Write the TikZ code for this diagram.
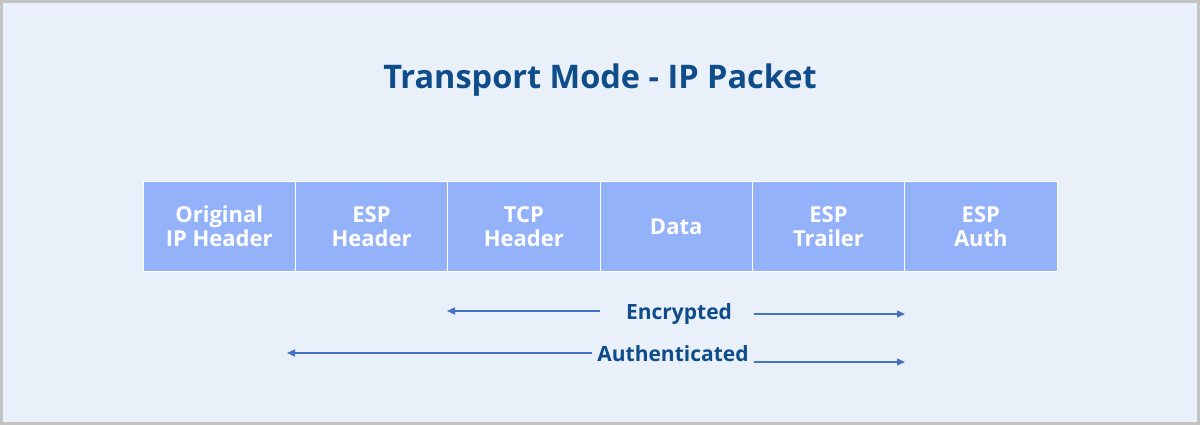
\documentclass[tikz,border=0pt]{standalone}
\usepackage{fontspec}
\setmainfont{Open Sans}
\usetikzlibrary{positioning,arrows.meta}

\definecolor{pagebg}{HTML}{E9F0FA}
\definecolor{frame}{HTML}{C3C3C3}
\definecolor{cellfill}{HTML}{94B2FA}
\definecolor{navy}{HTML}{0F4C8A}
\definecolor{arrowblue}{HTML}{4472C4}

\tikzset{
  cell/.style={draw=white, line width=1pt, fill=cellfill, minimum width=152.33pt, minimum height=89.5pt,
    inner sep=0pt, outer sep=0pt, align=center, text=white, font=\fontsize{22}{24}\selectfont\bfseries},
  label/.style={text=navy, inner sep=0pt, font=\fontsize{21}{26}\selectfont\bfseries},
  span/.style={arrowblue, line width=1.4pt, -{Triangle[length=8pt, width=7pt]}}
}

\begin{document}
\begin{tikzpicture}[x=1pt, y=-1pt]
  % page frame
  \fill[frame] (0, 0) rectangle (1200, 425);
  \fill[pagebg] (3, 3) rectangle (1197, 422);
  \useasboundingbox (0, 0) rectangle (1200, 425);

  \node[text=navy, font=\fontsize{32.5}{36}\selectfont\bfseries] (title) at (600, 80) {Transport Mode - IP Packet};

  % packet fields
  \node[cell] (orighdr) at (219.2, 226.5) {Original\\IP Header};
  \node[cell, right=0pt of orighdr] (esphdr) {ESP\\Header};
  \node[cell, right=0pt of esphdr] (tcphdr) {TCP\\Header};
  \node[cell, right=0pt of tcphdr] (data) {Data};
  \node[cell, right=0pt of data] (esptrl) {ESP\\Trailer};
  \node[cell, right=0pt of esptrl] (espauth) {ESP\\Auth};

  % encrypted span
  \node[label] (enc) at (679, 314) {Encrypted};
  \coordinate (encLa) at (600, 311);
  \coordinate (encLb) at (447, 311);
  \coordinate (encRa) at (754, 314);
  \coordinate (encRb) at (905, 314);
  \draw[span] (encLa) -- (encLb);
  \draw[span] (encRa) -- (encRb);

  % authenticated span
  \node[label] (auth) at (673, 354) {Authenticated};
  \coordinate (authLa) at (592, 353);
  \coordinate (authLb) at (287, 353);
  \coordinate (authRa) at (754, 362);
  \coordinate (authRb) at (905, 362);
  \draw[span] (authLa) -- (authLb);
  \draw[span] (authRa) -- (authRb);
\end{tikzpicture}
\end{document}
